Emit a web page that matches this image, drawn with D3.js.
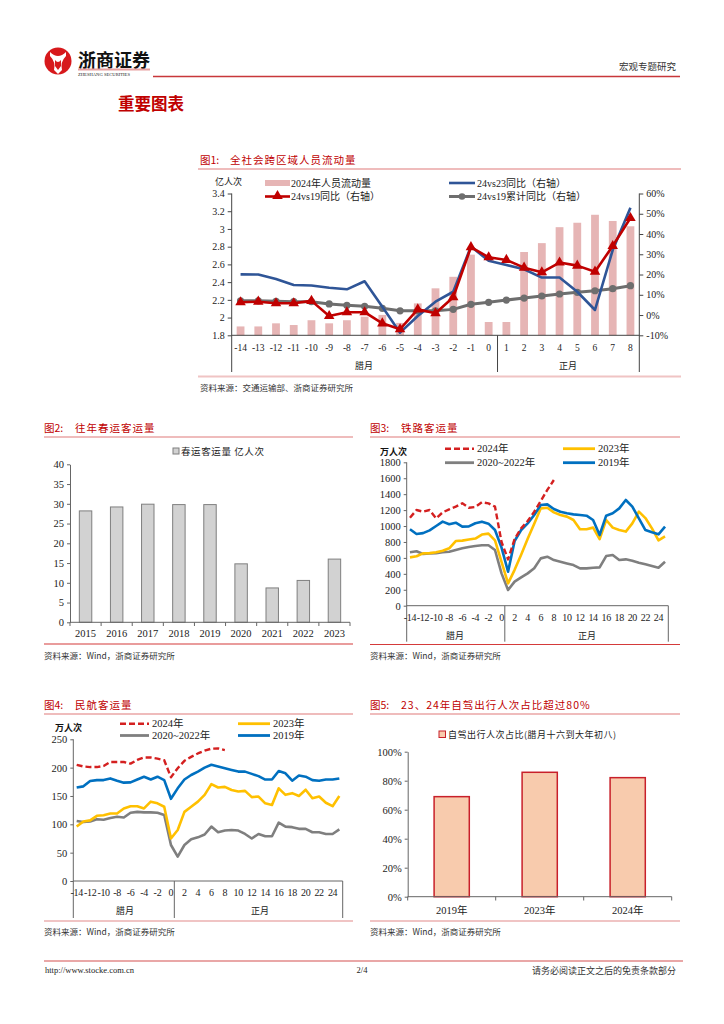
<!DOCTYPE html>
<html><head><meta charset="utf-8">
<script src="https://cdn.jsdelivr.net/npm/d3@7"></script>
<style>
body{margin:0;background:#fff}
svg{display:block}
text{font-family:"Liberation Serif","Noto Sans CJK SC",serif;fill:#222}
.cjk{font-family:"Noto Sans CJK SC",sans-serif}
</style>
</head><body>
<svg id="c" width="724" height="1024"></svg>
<script>
// ---------------- DATA ----------------
// Fig 1
const f1Cats = ["-14","-13","-12","-11","-10","-9","-8","-7","-6","-5","-4","-3","-2","-1","0","1","2","3","4","5","6","7","8"];
const f1Flow = [1.90,1.90,1.935,1.916,1.97,1.935,1.97,2.01,2.03,1.94,2.16,2.33,2.46,2.71,1.95,1.95,2.74,2.84,3.02,3.07,3.16,3.09,3.03];
const f1Yoy23 = [20.1,20.0,17.8,14.8,14.6,13.5,12.7,16.7,4.1,-8.7,-0.5,6.6,11.5,33.8,26.8,24.7,22.6,18.5,18.5,11.5,2.5,32.1,53];
const f1Yoy19 = [6.3,6.6,5.8,5.8,7.0,-0.5,1.4,1.4,-4.1,-7.0,2.8,0.9,8.8,33.5,28.5,27.2,23.4,21.1,25.9,24.4,21.4,34.1,47.9];
const f1Cum19 = [7.0,7.0,6.8,6.6,6.6,5.5,4.8,4.3,3.3,2.1,2.1,2.1,2.8,5.3,6.3,7.4,8.4,9.4,10.4,11.2,12.0,13.0,14.5];
const f1LeftTicks = [1.8,2.0,2.2,2.4,2.6,2.8,3.0,3.2,3.4];
const f1LeftLabels = ["1.8","2","2.2","2.4","2.6","2.8","3","3.2","3.4"];
const f1RightTicks = [-10,0,10,20,30,40,50,60];

// Fig 2
const f2Years = ["2015","2016","2017","2018","2019","2020","2021","2022","2023"];
const f2Vals = [28.2,29.2,29.9,29.8,29.8,14.8,8.7,10.6,16.0];
const f2Ticks = [0,5,10,15,20,25,30,35,40];

// Fig 3 & 4 shared category axis (腊月-14 … 正月25)
const dayCats = d3.range(-14,26).map(String);
const dayLabels = d3.range(-14,25,2).map(String);

// Fig 3 铁路客运量 (万人次)
const rail2024 = [1105,1201,1180,1201,1097,1172,1210,1243,1285,1230,1239,1298,1285,1243,800,580,837,971,1063,1180,1314,1453,1578];
const rail2023 = [607,620,657,660,670,690,720,812,817,830,843,893,905,820,550,281,450,640,840,1030,1222,1230,1172,1138,1118,1076,959,959,980,837,1076,980,950,930,1034,1180,1100,970,820,870];
const rail2020_22 = [670,683,649,655,660,670,678,699,720,737,750,758,758,699,406,197,302,356,406,469,594,615,573,552,531,510,469,469,477,481,623,636,573,582,565,540,519,498,477,552];
const rail2019 = [959,900,911,946,1000,1055,1022,1042,992,995,1035,1055,1030,950,730,427,812,950,1034,1138,1264,1272,1214,1180,1160,1146,1138,1130,1076,887,1130,1160,1222,1327,1243,1097,950,921,896,992];
const railTicks = [0,200,400,600,800,1000,1200,1400,1600,1800];

// Fig 4 民航客运量 (万人次)
const air2024 = [205,202,201,201,203,210,210,210,207,213.5,218,218,216,213,183,199,212,219,225,230,233.5,234,231];
const air2023 = [96,105,107,115,116,119,119,128,132,132,128,140,137,131,75,90,122,131,140,152,171,165,166,160.6,158,159,148,149,137,134,163.5,152,155,150,161,146,149,138,132,150];
const air2020_22 = [106,104,105,109,108,111,113.5,112,120.5,122,121,121,120.5,116.5,63.5,43,63.5,73.6,77,82,96,86,89,90,89,83,75,83,79,79,103,96,95,92,92,86,86,83,83,91];
const air2019 = [165,167,176.5,178,178,181,177,173.5,174,179,184,179,184,178,145,163.5,179,187,193,200,205,202,199,196,193,193,189,185,179,179,194,190,177,186,184,178,177,179,179,181];
const airTicks = [0,50,100,150,200,250];

// Fig 5
const f5Cats = ["2019年","2023年","2024年"];
const f5Vals = [69,85.8,82.1];
const f5Ticks = [0,20,40,60,80,100];

// ---------------- DRAW ----------------
const svg = d3.select("#c");
const RED = "#C00000";

function txt(x,y,s,opt={}){
  const t = svg.append("text").attr("x",x).attr("y",y).text(s)
    .attr("font-size",opt.size||10).attr("dominant-baseline","central")
    .attr("text-anchor",opt.anchor||"start");
  if(opt.fill) t.style("fill",opt.fill);
  if(opt.weight) t.attr("font-weight",opt.weight);
  if(opt.cls) t.attr("class",opt.cls);
  if(opt.ls) t.attr("letter-spacing",opt.ls);
  return t;
}
function hline(x1,x2,y,color,w){svg.append("line").attr("x1",x1).attr("x2",x2).attr("y1",y).attr("y2",y).attr("stroke",color).attr("stroke-width",w);}
function vline(x,y1,y2,color,w){svg.append("line").attr("x1",x).attr("x2",x).attr("y1",y1).attr("y2",y2).attr("stroke",color||"#555").attr("stroke-width",w||1);}
function title(x,y,num,rest,gap){
  txt(x,y,num,{size:10.5,cls:"cjk",fill:RED});
  txt(x+gap,y,rest,{size:10.5,cls:"cjk",fill:RED,ls:1});
}

// Header
const logo = svg.append("g");
logo.append("circle").attr("cx",58).attr("cy",61).attr("r",13.5).attr("fill","#D7191C");
logo.append("path").attr("d","M50,52 Q58,60 66,52 L66,56 Q60,62 62,70 L58,74 L54,70 Q56,62 50,56 Z").attr("fill","#fff");
logo.append("path").attr("d","M55,60 Q58,64 61,60 L61,66 L58,70 L55,66 Z").attr("fill","#D7191C");
txt(78,59,"浙商证券",{size:18,weight:"bold",cls:"cjk",fill:"#111"});
svg.append("rect").attr("x",78).attr("y",68.5).attr("width",72).attr("height",2).attr("fill","#E8A0A0");
txt(78,74,"ZHESHANG SECURITIES",{size:4.6,fill:"#222"});
hline(153,680,76.5,"#C8373A",1.6);
txt(676,66,"宏观专题研究",{size:9.5,anchor:"end",cls:"cjk",fill:"#333"});
txt(118,103,"重要图表",{size:16.5,weight:"bold",cls:"cjk",fill:RED});

// ================= FIG 1 =================
title(200,159,"图1:","全社会跨区域人员流动量",30);
hline(198,681,169,"#E07A7A",1.2);
{
  const x = d3.scaleBand().domain(f1Cats).range([231.7,639.3]).paddingInner(0.56).paddingOuter(0.28);
  const xc = d => x(d)+x.bandwidth()/2;
  const yL = d3.scaleLinear().domain([1.8,3.4]).range([335.3,193.5]);
  const yR = d3.scaleLinear().domain([-10,60]).range([335.3,193.5]);
  svg.append("g").selectAll("rect").data(f1Flow).join("rect")
    .attr("x",(d,i)=>x(f1Cats[i])).attr("width",x.bandwidth())
    .attr("y",d=>yL(d)).attr("height",d=>yL(1.8)-yL(d)).attr("fill","#E6B5B5");
  const gl = svg.append("g").attr("transform","translate(231.7,0)")
    .call(d3.axisLeft(yL).tickValues(f1LeftTicks).tickFormat((d,i)=>f1LeftLabels[i]).tickSize(4).tickSizeOuter(0));
  gl.select(".domain").remove();
  gl.selectAll("line").attr("stroke","#444");
  gl.selectAll("text").attr("font-size",10).style("fill","#222");
  vline(231.7,193.5,372,"#444",1);
  const gr = svg.append("g").attr("transform","translate(639.3,0)")
    .call(d3.axisRight(yR).tickValues(f1RightTicks).tickFormat(d=>d+"%").tickSize(4).tickSizeOuter(0));
  gr.select(".domain").remove();
  gr.selectAll("line").attr("stroke","#444");
  gr.selectAll("text").attr("font-size",10).style("fill","#222");
  vline(639.3,193.5,372,"#444",1);
  hline(231.7,639.3,335.3,"#444",1);
  vline((xc("0")+xc("1"))/2,335.3,372,"#444",1);
  svg.append("g").selectAll("text").data(f1Cats).join("text")
    .attr("x",d=>xc(d)).attr("y",347.5).attr("text-anchor","middle").attr("dominant-baseline","central")
    .attr("font-size",9.5).text(d=>d);
  txt(364,365,"腊月",{size:9,cls:"cjk",anchor:"middle"});
  txt(568,365,"正月",{size:9,cls:"cjk",anchor:"middle"});
  const mk = (arr,col,w) => svg.append("path").datum(arr)
    .attr("d",d3.line().x((d,i)=>xc(f1Cats[i])).y(d=>yR(d)))
    .attr("fill","none").attr("stroke",col).attr("stroke-width",w).attr("stroke-linejoin","round");
  mk(f1Cum19,"#6E6E6E",3);
  svg.append("g").selectAll("circle").data(f1Cum19).join("circle")
    .attr("cx",(d,i)=>xc(f1Cats[i])).attr("cy",d=>yR(d)).attr("r",3.6).attr("fill","#6E6E6E");
  mk(f1Yoy23,"#2F5597",2.6);
  mk(f1Yoy19,"#C00000",2.6);
  const tri = d3.symbol().type(d3.symbolTriangle).size(48);
  svg.append("g").selectAll("path").data(f1Yoy19).join("path")
    .attr("d",tri).attr("transform",(d,i)=>`translate(${xc(f1Cats[i])},${yR(d)})`).attr("fill","#C00000");
  txt(215,181,"亿人次",{size:9,cls:"cjk"});
  svg.append("rect").attr("x",265).attr("y",180).attr("width",25).attr("height",6).attr("fill","#E6B5B5");
  txt(291,183,"2024年人员流动量",{size:10});
  hline(449,475,183,"#2F5597",2.6);
  txt(477,183,"24vs23同比（右轴）",{size:10});
  hline(265,290,196.5,"#C00000",2.6);
  svg.append("path").attr("d",tri).attr("transform","translate(277.5,196)").attr("fill","#C00000");
  txt(291,196.5,"24vs19同比（右轴）",{size:10});
  hline(449,475,196.5,"#6E6E6E",3);
  svg.append("circle").attr("cx",462).attr("cy",196.5).attr("r",3.3).attr("fill","#6E6E6E");
  txt(477,196.5,"24vs19累计同比（右轴）",{size:10});
}
hline(198,681,376.5,"#F0C4C4",2.2);
txt(200,387,"资料来源：交通运输部、浙商证券研究所",{size:8.5,cls:"cjk",fill:"#333"});

// ================= FIG 2 =================
title(44,427.5,"图2:","往年春运客运量",31);
hline(44,353,437,"#E07A7A",1.2);
{
  const x = d3.scaleBand().domain(f2Years).range([70,350]).paddingInner(0.6).paddingOuter(0.3);
  const y = d3.scaleLinear().domain([0,40]).range([622.3,464.3]);
  svg.append("g").selectAll("rect").data(f2Vals).join("rect")
    .attr("x",(d,i)=>x(f2Years[i])).attr("width",x.bandwidth())
    .attr("y",d=>y(d)).attr("height",d=>y(0)-y(d)).attr("fill","#D2D2D2").attr("stroke","#7F7F7F").attr("stroke-width",1);
  const gl = svg.append("g").attr("transform","translate(70,0)")
    .call(d3.axisLeft(y).tickValues(f2Ticks).tickSize(3).tickSizeOuter(0));
  gl.select(".domain").attr("stroke","#666");
  gl.selectAll("line").attr("stroke","#666");
  gl.selectAll("text").attr("font-size",10.5).style("fill","#222");
  hline(70,350,622.3,"#666",1);
  const step = 280/9;
  svg.append("g").selectAll("line").data(d3.range(10)).join("line")
    .attr("x1",d=>70+d*step).attr("x2",d=>70+d*step).attr("y1",622.3).attr("y2",626).attr("stroke","#666");
  svg.append("g").selectAll("text").data(f2Years).join("text")
    .attr("x",d=>x(d)+x.bandwidth()/2).attr("y",633.5).attr("text-anchor","middle").attr("dominant-baseline","central")
    .attr("font-size",10.5).text(d=>d);
  svg.append("rect").attr("x",173).attr("y",448).attr("width",6).attr("height",6).attr("fill","#D2D2D2").attr("stroke","#7F7F7F");
  txt(181,451,"春运客运量 亿人次",{size:9.5,cls:"cjk",ls:0.6});
}
hline(44,353,644,"#D43A3A",1.2);
txt(44,655,"资料来源：Wind，浙商证券研究所",{size:8.5,cls:"cjk",fill:"#333"});

// ========== shared line chart for fig3 & fig4 ==========
function dayChart(cfg){
  const x = d3.scaleBand().domain(dayCats).range([cfg.x0,cfg.x1]);
  const xc = d => x(d)+x.bandwidth()/2;
  const y = d3.scaleLinear().domain([0,cfg.max]).range([cfg.y0,cfg.yTop]);
  const gl = svg.append("g").attr("transform",`translate(${cfg.x0},0)`)
    .call(d3.axisLeft(y).tickValues(cfg.ticks).tickFormat(d3.format("d")).tickSize(3).tickSizeOuter(0));
  gl.select(".domain").remove();
  gl.selectAll("line").attr("stroke","#666");
  gl.selectAll("text").attr("font-size",10.5).style("fill","#222");
  vline(cfg.x0,cfg.yTop,cfg.yBot,"#666",1);
  hline(cfg.x0,cfg.x1,cfg.y0,"#666",1);
  vline((xc("0")+xc("1"))/2,cfg.y0,cfg.yBot,"#666",1);
  vline(cfg.x1,cfg.y0,cfg.yBot,"#666",1);
  svg.append("g").selectAll("text").data(dayLabels).join("text")
    .attr("x",d=>xc(d)).attr("y",cfg.y0+11.5).attr("text-anchor","middle").attr("dominant-baseline","central")
    .attr("font-size",10).attr("letter-spacing",-0.3).text(d=>d);
  txt(cfg.lm,cfg.y0+29.5,"腊月",{size:9,cls:"cjk",anchor:"middle"});
  txt(cfg.zm,cfg.y0+29.5,"正月",{size:9,cls:"cjk",anchor:"middle"});
  const ln = d3.line().x((d,i)=>xc(dayCats[i])).y(d=>y(d));
  const draw = (arr,col,w,dash) => {
    const p = svg.append("path").datum(arr).attr("d",ln).attr("fill","none")
      .attr("stroke",col).attr("stroke-width",w).attr("stroke-linejoin","round");
    if(dash) p.attr("stroke-dasharray",dash);
  };
  draw(cfg.s2022,"#7F7F7F",2.6);
  draw(cfg.s2023,"#FFC000",2.6);
  draw(cfg.s2019,"#0070C0",2.6);
  draw(cfg.s2024,"#D42020",2.4,"6,3");
  const L = cfg.leg;
  svg.append("line").attr("x1",L.a).attr("x2",L.a+29).attr("y1",L.y1).attr("y2",L.y1)
    .attr("stroke","#D42020").attr("stroke-width",2.4).attr("stroke-dasharray","6,3");
  txt(L.a+32,L.y1,"2024年",{size:10.5});
  hline(L.b,L.b+32,L.y1,"#FFC000",2.8);
  txt(L.b+35,L.y1,"2023年",{size:10.5});
  hline(L.a,L.a+29,L.y2,"#7F7F7F",2.8);
  txt(L.a+32,L.y2,"2020~2022年",{size:10.5});
  hline(L.b,L.b+32,L.y2,"#0070C0",2.8);
  txt(L.b+35,L.y2,"2019年",{size:10.5});
  txt(cfg.ux,cfg.uy,"万人次",{size:9,weight:"bold",cls:"cjk",fill:"#111"});
}

// ================= FIG 3 =================
title(370,427.5,"图3:","铁路客运量",31);
hline(370,680,437,"#E07A7A",1.2);
dayChart({x0:406.7,x1:668.3,y0:605.7,yTop:462.3,yBot:641.7,max:1800,ticks:railTicks,
  lm:455,zm:587,s2024:rail2024,s2023:rail2023,s2022:rail2020_22,s2019:rail2019,
  leg:{a:445,b:563,y1:448.7,y2:462.7},ux:380,uy:451});
hline(370,680,644.5,"#D43A3A",1.2);
txt(370,655,"资料来源：Wind，浙商证券研究所",{size:8.5,cls:"cjk",fill:"#333"});

// ================= FIG 4 =================
title(44,704,"图4:","民航客运量",31);
hline(44,353,714,"#E07A7A",1.2);
dayChart({x0:73.3,x1:342.7,y0:881,yTop:739.3,yBot:918,max:250,ticks:airTicks,
  lm:125,zm:260,s2024:air2024,s2023:air2023,s2022:air2020_22,s2019:air2019,
  leg:{a:120,b:238,y1:723.7,y2:735.5},ux:55,uy:727.5});
hline(44,353,921,"#F0C4C4",2);
txt(44,931,"资料来源：Wind，浙商证券研究所",{size:8.5,cls:"cjk",fill:"#333"});

// ================= FIG 5 =================
title(370,704,"图5:","23、24年自驾出行人次占比超过80%",31);
hline(370,680,714,"#E07A7A",1.2);
{
  const x = d3.scaleBand().domain(f5Cats).range([407.7,671.7]).paddingInner(0.6).paddingOuter(0.3);
  const y = d3.scaleLinear().domain([0,100]).range([896.7,751.7]);
  svg.append("g").selectAll("rect").data(f5Vals).join("rect")
    .attr("x",(d,i)=>x(f5Cats[i])).attr("width",x.bandwidth())
    .attr("y",d=>y(d)).attr("height",d=>y(0)-y(d)).attr("fill","#F8CBAD").attr("stroke","#C8202A").attr("stroke-width",1.5);
  const gl = svg.append("g").attr("transform","translate(407.7,0)")
    .call(d3.axisLeft(y).tickValues(f5Ticks).tickFormat(d=>d+"%").tickSize(3).tickSizeOuter(0));
  gl.select(".domain").attr("stroke","#666");
  gl.selectAll("line").attr("stroke","#666");
  gl.selectAll("text").attr("font-size",10.5).style("fill","#222");
  hline(407.7,671.7,896.7,"#666",1);
  const step = 264/3;
  svg.append("g").selectAll("line").data(d3.range(4)).join("line")
    .attr("x1",d=>407.7+d*step).attr("x2",d=>407.7+d*step).attr("y1",896.7).attr("y2",900.5).attr("stroke","#666");
  svg.append("g").selectAll("text").data(f5Cats).join("text")
    .attr("x",d=>x(d)+x.bandwidth()/2).attr("y",910).attr("text-anchor","middle").attr("dominant-baseline","central")
    .attr("font-size",10.5).text(d=>d);
  svg.append("rect").attr("x",439).attr("y",731).attr("width",6.5).attr("height",6.5).attr("fill","#F8CBAD").attr("stroke","#C8202A");
  txt(448,734.5,"自驾出行人次占比(腊月十六到大年初八)",{size:9,cls:"cjk",ls:0.5});
}
hline(370,680,921,"#F0C4C4",2);
txt(370,931,"资料来源：Wind，浙商证券研究所",{size:8.5,cls:"cjk",fill:"#333"});

// Footer
hline(44,683,961,"#D45050",1.2);
txt(45,970,"http://www.stocke.com.cn",{size:8.5});
txt(362,970,"2/4",{size:8.5,anchor:"middle"});
txt(676,970,"请务必阅读正文之后的免责条款部分",{size:9,anchor:"end",cls:"cjk",fill:"#333"});
</script>
</body></html>
